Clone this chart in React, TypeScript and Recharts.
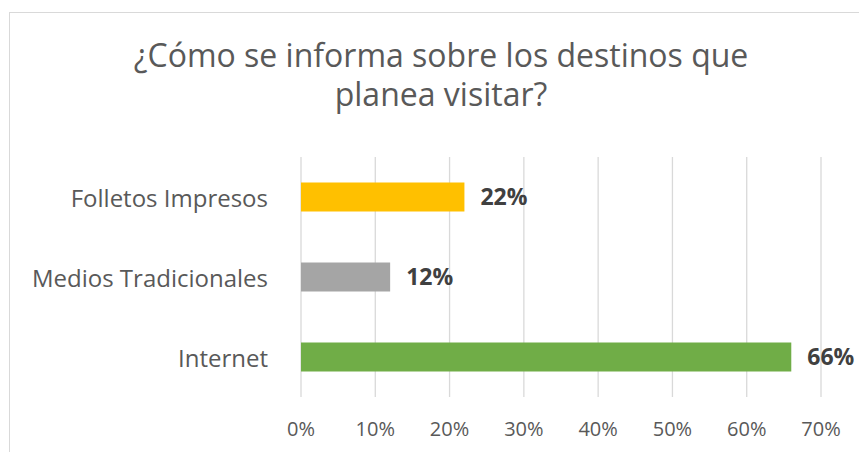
import React from "react";
import { BarChart, Bar, XAxis, YAxis, CartesianGrid, Cell, LabelList } from "recharts";

const categories = ["Folletos Impresos", "Medios Tradicionales", "Internet"];
const values = [22, 12, 66];
const colors = ["#FFC000", "#A5A5A5", "#70AD47"];
const xTicks = [0, 10, 20, 30, 40, 50, 60, 70];
const titleLines = ["¿Cómo se informa sobre los destinos que", "planea visitar?"];

const data = categories.map((c, i) => ({ name: c, value: values[i] }));
const FONT = "'Open Sans', sans-serif";

const YTick = (props: any) => {
  const { x, y, payload } = props;
  return (
    <text x={x - 25} y={y} textAnchor="end" dominantBaseline="central" fill="#595959" fontSize={24} fontFamily={FONT}>
      {payload.value}
    </text>
  );
};

const XTick = (props: any) => {
  const { x, payload } = props;
  return (
    <text x={x} y={428} textAnchor="middle" dominantBaseline="central" fill="#595959" fontSize={20} fontFamily={FONT}>
      {payload.value}%
    </text>
  );
};

export default function App() {
  return (
    <div style={{ position: "absolute", left: 0, top: 0, width: 859, height: 452, overflow: "hidden", background: "#fff" }}>
      <div style={{ position: "absolute", left: 9, top: 12, width: 870, height: 460, border: "1px solid #d9d9d9", boxSizing: "border-box" }} />
      <div style={{ position: "absolute", left: 0, top: 0 }}>
        <BarChart width={859} height={452} data={data} layout="vertical" margin={{ top: 157, right: 38, bottom: 0, left: 0 }} barCategoryGap="32%" style={{ overflow: "visible" }}>
          <CartesianGrid horizontal={false} vertical={true} stroke="#d9d9d9" strokeWidth={1.3} />
          <XAxis type="number" domain={[0, 70]} ticks={xTicks} axisLine={false} tickLine={false} height={55} tick={<XTick />} interval={0} />
          <YAxis type="category" dataKey="name" width={301} axisLine={false} tickLine={false} tick={<YTick />} />
          <Bar dataKey="value" isAnimationActive={false}>
            {data.map((d, i) => (
              <Cell key={d.name} fill={colors[i]} />
            ))}
            <LabelList dataKey="value" position="right" offset={16} formatter={(v: any) => `${v}%`} fill="#404040" fontSize={23} fontWeight="bold" fontFamily={FONT} />
          </Bar>
        </BarChart>
      </div>
      {titleLines.map((t, i) => (
        <div key={i} style={{ position: "absolute", left: 0, width: 882, top: i === 0 ? 35 : 74, textAlign: "center", fontSize: 32, lineHeight: "40px", color: "#595959", fontFamily: FONT, whiteSpace: "nowrap" }}>
          {t}
        </div>
      ))}
    </div>
  );
}
